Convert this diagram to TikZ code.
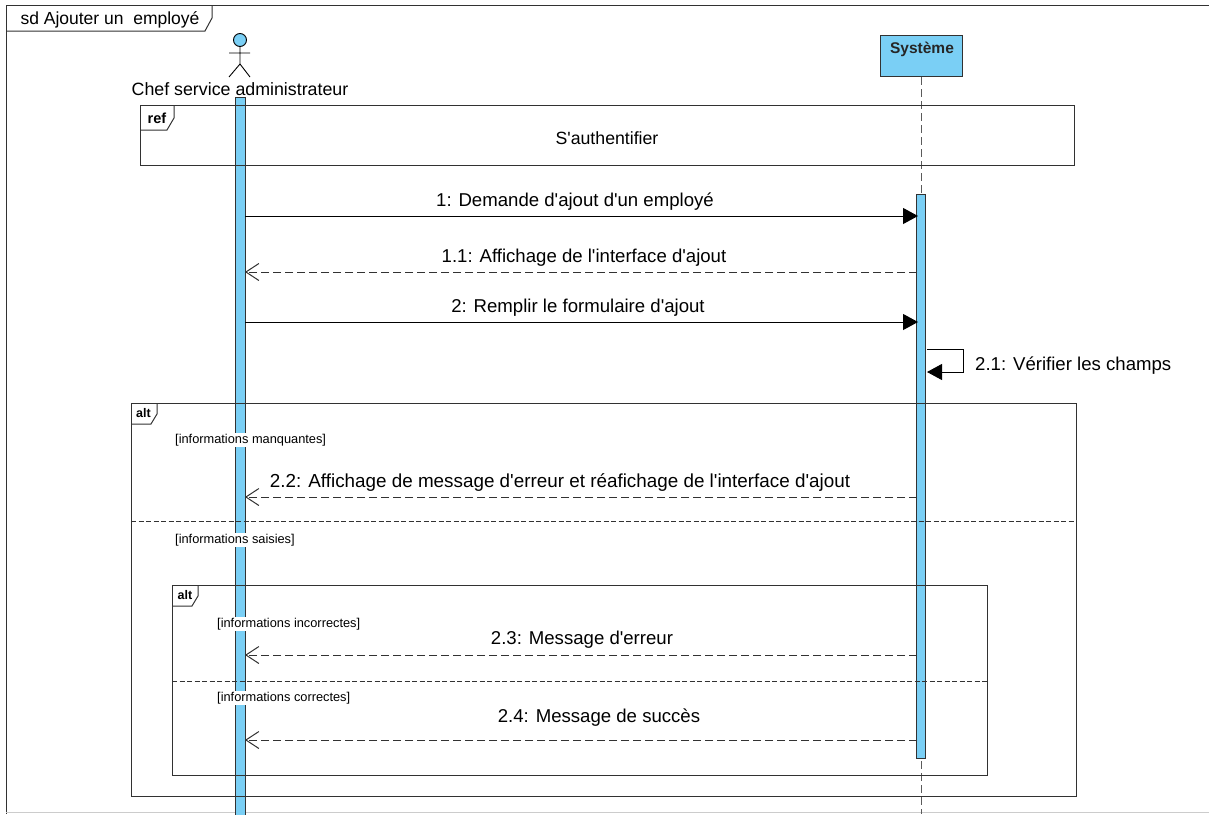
\documentclass[tikz,border=0pt]{standalone}
\usepackage{fontspec}
\setmainfont{Liberation Sans}[Ligatures=TeXOff]
\usetikzlibrary{arrows.meta}
\definecolor{umlblue}{RGB}{122,207,245}
\definecolor{umlline}{RGB}{50,50,50}
\tikzset{
  frameline/.style={umlline, line width=1pt},
  call/.style={black, line width=1pt, -{Triangle[length=15pt,width=16pt]}},
  reply/.style={umlline, line width=1pt, dash pattern=on 8pt off 4pt, -{Straight Barb[length=13pt,width=17pt,line width=1pt]}},
  msg/.style={font=\fontsize{18.6}{20}\selectfont, inner sep=0pt},
  guard/.style={font=\fontsize{12.8}{14}\selectfont, fill=white, inner sep=1pt},
  tag/.style={font=\fontsize{12.5}{14}\selectfont\bfseries, inner sep=0pt},
}
\begin{document}
\begin{tikzpicture}[x=1pt,y=-1pt]
\useasboundingbox (0,0) rectangle (1209,814);
\fill[white] (0,0) rectangle (1209,814);
% outer frame
\draw[frameline] (1209,5) -- (6,5) -- (6,814);
\draw[gray!40, line width=0.8pt] (6,812.5) -- (1209,812.5);
\draw[frameline] (6,31) -- (205,31) -- (212,18) -- (212,5);
\node[font=\fontsize{17.5}{19}\selectfont, inner sep=0pt] (titre) at (110,20) {sd Ajouter un\ \ employé};
% actor
\draw[black, line width=0.9pt, fill=umlblue] (240,40) circle (6.5);
\draw[black, line width=0.9pt] (240,46.5) -- (240,64) (229,53) -- (250,53) (229,77) -- (240,64) -- (250,77);
\node[font=\fontsize{17.8}{19}\selectfont, inner sep=0pt] (chef) at (240,89) {Chef service administrateur};
% system head
\node[draw=umlline, fill=umlblue, line width=1pt, minimum width=82pt, minimum height=41pt, anchor=north west, inner sep=0pt] (systeme) at (880,35) {};
\node[font=\fontsize{15.5}{17}\selectfont\bfseries, inner sep=0pt, text=black!85] (systemelabel) at (922,49.5) {Système};
% lifelines
\coordinate (sysbas) at (921,814);
\draw[umlline!80, line width=1pt, dash pattern=on 8pt off 4pt] (systeme.south -| sysbas) -- (sysbas);
\filldraw[draw=umlline, fill=umlblue, line width=1pt] (235,97) rectangle (245,816);
\filldraw[draw=umlline, fill=umlblue, line width=1pt] (916,194) rectangle (925,758);
% ref
\draw[frameline] (140,105) rectangle (1074,165);
\draw[frameline] (140,130) -- (167,130) -- (174,118) -- (174,105);
\node[tag, font=\fontsize{14.5}{16}\selectfont\bfseries] (reftag) at (157,118) {ref};
\node[font=\fontsize{17.7}{19}\selectfont, inner sep=0pt] (auth) at (607,138) {S'authentifier};
% messages
\coordinate (c1) at (245,216); \coordinate (s1) at (918,216);
\coordinate (s11) at (917,272); \coordinate (c11) at (245,272);
\coordinate (c2) at (245,322); \coordinate (s2) at (918,322);
\coordinate (s22) at (917,497); \coordinate (c22) at (245,497);
\coordinate (s23) at (917,655); \coordinate (c23) at (245,655);
\coordinate (s24) at (917,740); \coordinate (c24) at (245,740);
\draw[call] (c1) -- (s1);
\node[msg] (m1) at (575,202) {1: Demande d'ajout d'un employé};
\draw[reply] (s11) -- (c11);
\node[msg] (m11) at (584,258) {1.1: Affichage de l'interface d'ajout};
\draw[call] (c2) -- (s2);
\node[msg] (m2) at (578,308) {2: Remplir le formulaire d'ajout};
% self call
\coordinate (auto1) at (927,349); \coordinate (auto2) at (927,372);
\draw[call] (auto1) -- (963,349) -- (963,372) -- (auto2);
\node[msg, anchor=west] (m21) at (975,365.5) {2.1: Vérifier les champs};
% alt
\draw[frameline] (131,403) rectangle (1076,796);
\draw[frameline] (131,424) -- (151,424) -- (157,414) -- (157,403);
\node[tag] (alttag) at (143.5,413) {alt};
\draw[frameline, dash pattern=on 5pt off 2.5pt] (131,521) -- (1076,521);
\node[guard, anchor=west] (g1) at (174,440) {[informations manquantes]};
\node[guard, anchor=west] (g2) at (174,540) {[informations saisies]};
\draw[reply] (s22) -- (c22);
\node[msg, font=\fontsize{18.85}{20}\selectfont] (m22) at (560,482.5) {2.2: Affichage de message d'erreur et réafichage de l'interface d'ajout};
% inner alt
\draw[frameline] (172,585) rectangle (987,775);
\draw[frameline] (172,606) -- (192,606) -- (198,596) -- (198,585);
\node[tag] (altintag) at (185,595) {alt};
\draw[frameline, dash pattern=on 5pt off 2.5pt] (172,681) -- (987,681);
\node[guard, anchor=west] (g3) at (216,624) {[informations incorrectes]};
\node[guard, anchor=west] (g4) at (216,698) {[informations correctes]};
\draw[reply] (s23) -- (c23);
\node[msg] (m23) at (582,639.5) {2.3: Message d'erreur};
\draw[reply] (s24) -- (c24);
\node[msg] (m24) at (599,717.5) {2.4: Message de succès};
\end{tikzpicture}
\end{document}
